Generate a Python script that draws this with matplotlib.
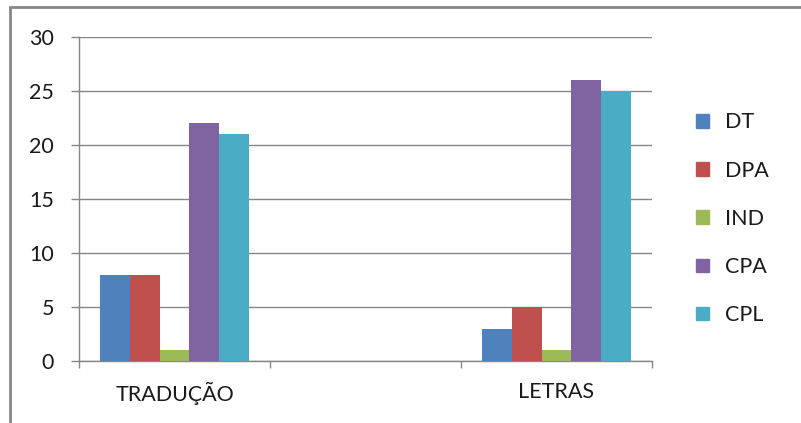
import matplotlib

matplotlib.use("Agg")
import matplotlib.pyplot as plt
import numpy as np
from matplotlib.patches import Patch, Rectangle

categories = ["TRADUÇÃO", "", "LETRAS"]
series = ["DT", "DPA", "IND", "CPA", "CPL"]
dt = [8, 0, 3]
dpa = [8, 0, 5]
ind = [1, 0, 1]
cpa = [22, 0, 26]
cpl = [21, 0, 25]
colors = ["#4F81BD", "#C0504D", "#9BBB59", "#8064A2", "#4BACC6"]

plt.rcParams["font.family"] = ["Lato", "DejaVu Sans"]
grid_color = "#868686"
text_color = "#1a1a1a"

fig = plt.figure(figsize=(8.01, 4.23), dpi=100)
ax = fig.add_axes([79 / 801, 62 / 423, (652 - 79) / 801, (361 - 37) / 423])

x = np.arange(len(categories))
w = 0.155
for i, (name, vals) in enumerate(zip(series, [dt, dpa, ind, cpa, cpl])):
    ax.bar(x + (i - 2) * w, vals, w, color=colors[i], edgecolor="none", label=name, zorder=3)

ax.set_xlim(-0.5, len(categories) - 0.5)
ax.set_ylim(0, 30)
ax.set_yticks(range(0, 31, 5))
ax.yaxis.grid(True, color=grid_color, linewidth=1, zorder=0)
ax.set_xticks(x)
ax.set_xticklabels(categories)
ax.set_xticks(np.arange(-0.5, len(categories), 1), minor=True)
ax.tick_params(axis="x", which="major", length=0, pad=15, labelsize=15.5, colors=text_color)
ax.tick_params(axis="x", which="minor", length=5, width=1, color=grid_color)
ax.tick_params(axis="y", length=6, width=1, color=grid_color, pad=12, labelsize=15.5, labelcolor=text_color)
for side in ["top", "right"]:
    ax.spines[side].set_visible(False)
for side in ["left", "bottom"]:
    ax.spines[side].set_color(grid_color)
    ax.spines[side].set_linewidth(1)

handles = [Patch(color=c, label=s) for c, s in zip(colors, series)]
fig.legend(handles=handles, loc="upper left", bbox_to_anchor=(677 / 801, 1 - 93 / 423),
           frameon=False, fontsize=15.5, handlelength=0.6, handleheight=0.6,
           handletextpad=0.75, labelspacing=1.31, labelcolor=text_color)

# outer chart frame
fig.add_artist(Rectangle((10 / 801, -0.1), 1.0, 1 - 7 / 423 + 0.1, transform=fig.transFigure,
                         fill=False, edgecolor=grid_color, linewidth=2))

fig.savefig("out.png", dpi=100)
